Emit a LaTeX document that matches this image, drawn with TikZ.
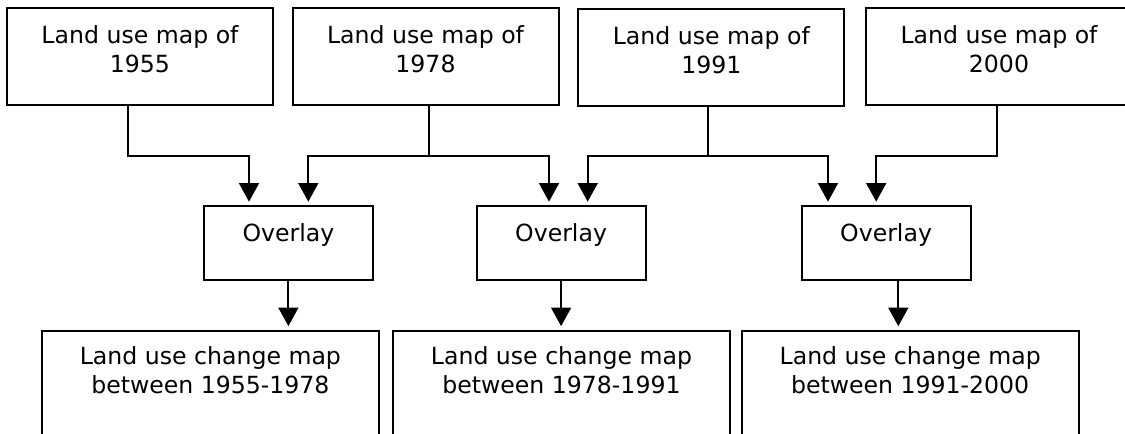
\documentclass[tikz,border=0pt]{standalone}
\usepackage{fontspec}
\setmainfont{DejaVu Sans}
\usepackage{tikz}
\usetikzlibrary{calc,arrows.meta}

\begin{document}
\begin{tikzpicture}[x=0.75pt,y=-0.75pt,>={Triangle[width=15pt,length=14pt]},
  line width=1.5pt,
  every node/.style={font=\fontsize{17.7}{21.4}\selectfont},
  mapbox/.style={draw,anchor=north,align=center,inner sep=0pt,minimum width=199.5pt,text height=48pt,text depth=25.1pt},
  overlaybox/.style={draw,anchor=north,inner sep=0pt,minimum width=126.75pt,text height=26.25pt,text depth=29.6pt},
  changebox/.style={draw,anchor=north,align=center,inner sep=0pt,minimum width=253pt,text height=47.1pt,text depth=65.8pt}]
  \useasboundingbox (0,0) rectangle (1125,433);
  \clip (0,0) rectangle (1125,433);
  % land use maps
  \node[mapbox] (m1955) at (140,7) {Land use map of\\1955};
  \node[mapbox] (m1978) at (425.5,7) {Land use map of\\1978};
  \node[mapbox] (m1991) at (711.3,8) {Land use map of\\1991};
  \node[mapbox] (m2000) at (999,7) {Land use map of\\2000};
  % overlays
  \node[overlaybox] (ov1) at (288.4,205) {Overlay};
  \node[overlaybox] (ov2) at (561.1,205) {Overlay};
  \node[overlaybox] (ov3) at (886.1,205) {Overlay};
  % change maps
  \node[changebox] (ch1) at (210.4,329.5) {Land use change map\\between 1955-1978};
  \node[changebox] (ch2) at (561.5,329.5) {Land use change map\\between 1978-1991};
  \node[changebox] (ch3) at (910.2,329.5) {Land use change map\\between 1991-2000};
  % maps into overlays
  \draw[->,shorten >=2.5pt] ($(m1955.south)+(-12.3,0)$) -- ++(0,49.5) -| ($(ov1.north)+(-39.4,0)$);
  \draw ($(m1978.south)+(3.1,0)$) -- ++(0,49.5) coordinate (j1978);
  \draw[->,shorten >=2.5pt] (j1978) -| ($(ov1.north)+(19.9,0)$);
  \draw[->,shorten >=2.5pt] (j1978) -| ($(ov2.north)+(-12.1,0)$);
  \draw ($(m1991.south)+(-3.6,0)$) -- ++(0,48.5) coordinate (j1991);
  \draw[->,shorten >=2.5pt] (j1991) -| ($(ov2.north)+(26.6,0)$);
  \draw[->,shorten >=2.5pt] (j1991) -| ($(ov3.north)+(-58.1,0)$);
  \draw[->,shorten >=2.5pt] ($(m2000.south)+(-2,0)$) -- ++(0,49.5) -| ($(ov3.north)+(-9.9,0)$);
  % overlays into change maps
  \draw[->,shorten >=2.5pt] (ov1.south) -- (ov1.south |- ch1.north);
  \draw[->,shorten >=2.5pt] (ov2.south) -- (ov2.south |- ch2.north);
  \draw[->,shorten >=2.5pt] ($(ov3.south)+(12.2,0)$) coordinate (o3) -- (o3 |- ch3.north);
\end{tikzpicture}
\end{document}
